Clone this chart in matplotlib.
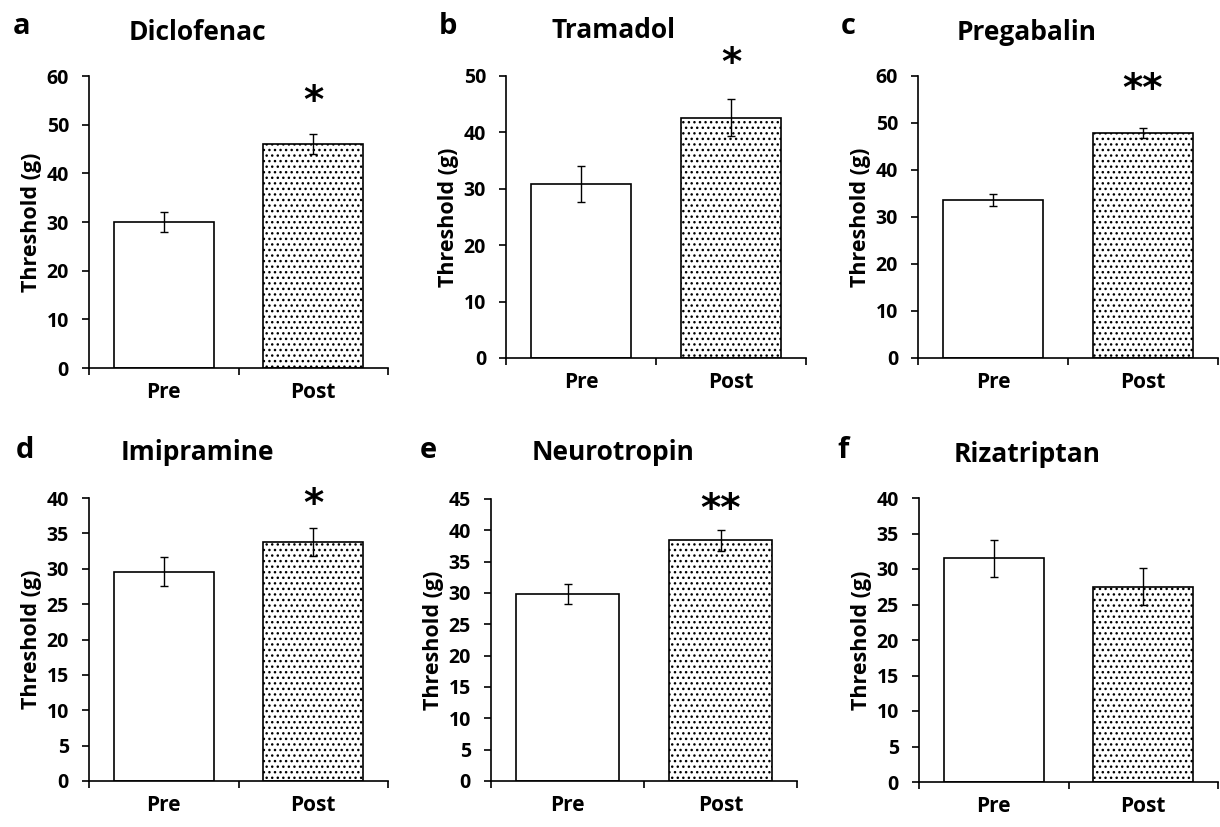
import matplotlib
matplotlib.use("Agg")
import matplotlib.pyplot as plt
import numpy as np

plt.rcParams['font.family'] = ['Open Sans', 'DejaVu Sans']
plt.rcParams['font.weight'] = 'bold'
plt.rcParams['hatch.linewidth'] = 1.0
plt.rcParams['hatch.color'] = '#333333'

letters = ['a', 'b', 'c', 'd', 'e', 'f']
drugs = ['Diclofenac', 'Tramadol', 'Pregabalin', 'Imipramine', 'Neurotropin', 'Rizatriptan']
categories = ['Pre', 'Post']
pre_means = [30.0, 30.9, 33.6, 29.6, 29.8, 31.5]
pre_errs = [2.0, 3.2, 1.2, 2.0, 1.6, 2.6]
post_means = [46.0, 42.6, 47.9, 33.8, 38.4, 27.5]
post_errs = [2.0, 3.3, 1.1, 2.0, 1.7, 2.6]
y_max = [60, 50, 60, 40, 45, 40]
y_step = [10, 10, 10, 5, 5, 5]
stars = ['*', '*', '**', '*', '**', '']
star_y = [54.6, 52.2, 57.0, 39.0, 43.2, 0]

W, H = 1220, 827
fig = plt.figure(figsize=(W / 100, H / 100), dpi=100)

# axes boxes in pixels: left, right, top, bottom
boxes = [
    (89, 388, 76, 368),
    (506, 806, 76, 358),
    (918, 1218, 76, 358),
    (89, 388, 498, 781),
    (491, 797, 499, 781),
    (919, 1218, 498, 782),
]
letter_pos = [(22, 27), (448, 27), (848, 27), (25, 451), (428, 451), (843, 451)]
title_pos = [(197, 33), (613, 31), (1027, 33), (197, 453), (613, 453), (1027, 455)]

for i in range(6):
    l, r, t, b = boxes[i]
    ax = fig.add_axes([l / W, 1 - b / H, (r - l) / W, (b - t) / H])
    x = np.arange(len(categories))
    vals = [pre_means[i], post_means[i]]
    errs = [pre_errs[i], post_errs[i]]
    ax.bar(x[0], vals[0], width=0.667, color='white', edgecolor='black', linewidth=1.2, zorder=2)
    ax.bar(x[1], vals[1], width=0.667, color='white', edgecolor='black', linewidth=1.2,
           hatch='...', zorder=2)
    ax.errorbar(x, vals, yerr=errs, fmt='none', ecolor='black', elinewidth=1.0,
                capsize=3, capthick=1.0, zorder=3)
    ax.set_xlim(-0.5, 1.5)
    ax.set_ylim(0, y_max[i])
    ax.set_yticks(np.arange(0, y_max[i] + 0.1, y_step[i]))
    ax.set_xticks(x)
    ax.set_xticklabels(categories, fontsize=15, fontweight='bold')
    ax.set_xticks([-0.5, 0.5, 1.5], minor=True)
    ax.tick_params(axis='x', which='major', length=0, pad=10)
    ax.tick_params(axis='x', which='minor', length=5, width=1.2, direction='out')
    ax.tick_params(axis='y', length=5.4, width=1.2, pad=9, labelsize=14)
    for lab in ax.get_yticklabels():
        lab.set_fontweight('bold')
    for s in ['top', 'right']:
        ax.spines[s].set_visible(False)
    for s in ['left', 'bottom']:
        ax.spines[s].set_linewidth(1.2)
    ax.set_ylabel('Threshold (g)', fontsize=15.5, fontweight='bold', labelpad=3)
    if stars[i]:
        ax.text(1, star_y[i], stars[i], ha='center', va='center', fontsize=28,
                fontweight='bold', family='DejaVu Sans')
    fig.text(letter_pos[i][0] / W, 1 - letter_pos[i][1] / H, letters[i], fontsize=21,
             fontweight='bold', ha='center', va='center')
    fig.text(title_pos[i][0] / W, 1 - title_pos[i][1] / H, drugs[i], fontsize=19,
             fontweight='bold', ha='center', va='center')

fig.savefig('out.png', dpi=100, facecolor='white')
